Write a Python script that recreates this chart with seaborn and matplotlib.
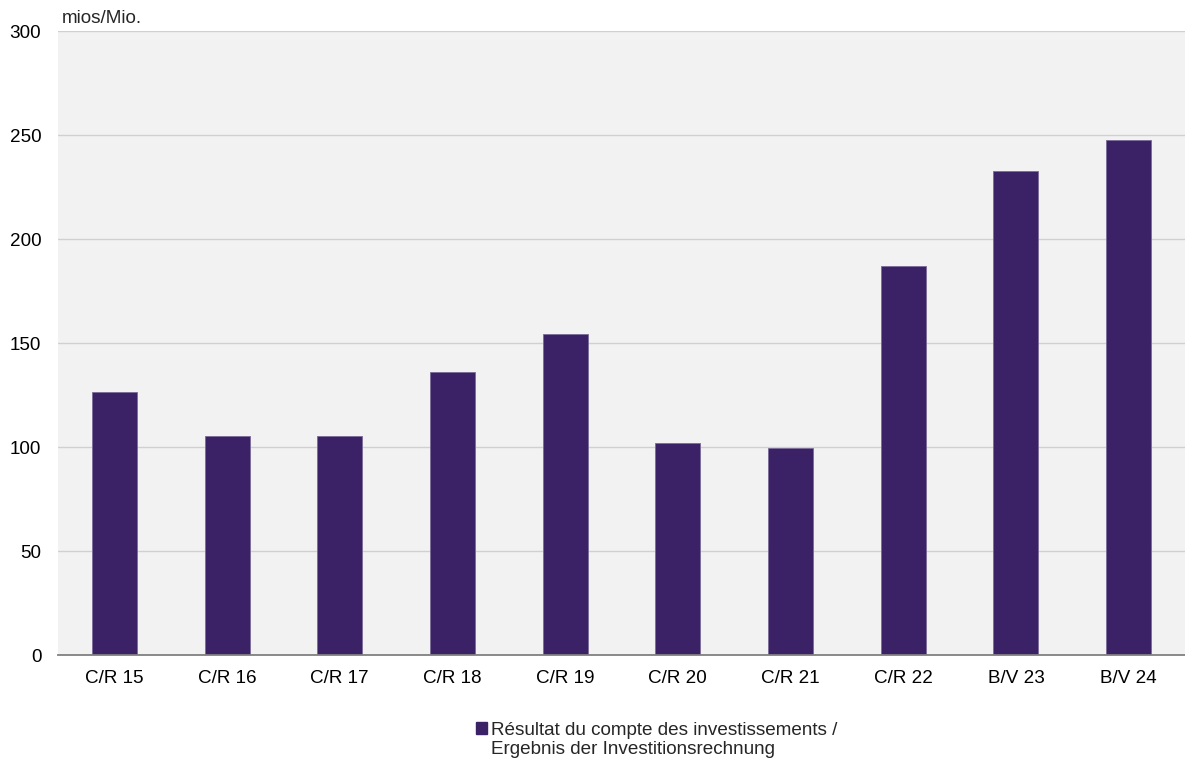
import matplotlib
matplotlib.use("Agg")
import matplotlib.pyplot as plt
import seaborn as sns
import pandas as pd
from matplotlib.patches import Patch

categories = ["C/R 15", "C/R 16", "C/R 17", "C/R 18", "C/R 19", "C/R 20", "C/R 21", "C/R 22", "B/V 23", "B/V 24"]
values = [126.6, 105.4, 105.4, 136.2, 154.3, 101.9, 99.6, 187.0, 232.5, 247.4]
yticks = [0, 50, 100, 150, 200, 250, 300]
unit_label = "mios/Mio."
legend_line1 = "Résultat du compte des investissements /"
legend_line2 = "Ergebnis der Investitionsrechnung"

sns.set_style("white")
plt.rcParams["font.family"] = ["Liberation Sans", "DejaVu Sans"]

bar_color = "#3b2266"
fs = 13.6
df = pd.DataFrame({"cat": categories, "val": values})

fig = plt.figure(figsize=(11.85, 7.6), dpi=100)
ax = fig.add_axes([58 / 1185, 105 / 760, 1 - 58 / 1185, (655 - 31) / 760])
ax.set_facecolor("#f2f2f2")

sns.barplot(data=df, x="cat", y="val", color=bar_color, saturation=1, width=0.4,
            edgecolor="#7a6a98", linewidth=0.6, ax=ax, zorder=3)

ax.set_ylim(0, 300)
ax.set_yticks(yticks)
ax.set_xlim(-0.5, len(categories) - 0.5)
ax.yaxis.grid(True, color="#d0d0d0", linewidth=1.0, zorder=0)
ax.set_axisbelow(True)
for s in ["top", "right", "left"]:
    ax.spines[s].set_visible(False)
ax.spines["bottom"].set_color("#808080")
ax.spines["bottom"].set_linewidth(1.3)
ax.spines["bottom"].set_zorder(4)
ax.tick_params(axis="y", length=0, pad=12, labelsize=fs, colors="black")
ax.tick_params(axis="x", length=0, pad=10.5, labelsize=fs, colors="black")
ax.set_xlabel("")
ax.set_ylabel("")

ax.annotate(unit_label, xy=(0, 1), xycoords="axes fraction", xytext=(3, 3),
            textcoords="offset points", ha="left", va="bottom", fontsize=fs)

handle = Patch(facecolor=bar_color, edgecolor=bar_color)
leg = fig.legend(handles=[handle], labels=[legend_line1], loc="upper left",
                 bbox_to_anchor=(476 / 1185, 1 - 722 / 760), frameon=False,
                 fontsize=fs, handlelength=0.6, handleheight=0.6,
                 handletextpad=0.17, borderpad=0, borderaxespad=0)
fig.canvas.draw()
renderer = fig.canvas.get_renderer()
tb = leg.get_texts()[0].get_window_extent(renderer)
x0 = tb.x0 / fig.bbox.width
y_second = (tb.y0 - 19) / fig.bbox.height
fig.text(x0, y_second, legend_line2, ha="left", va="bottom", fontsize=fs)

fig.savefig("out.png", dpi=100)
